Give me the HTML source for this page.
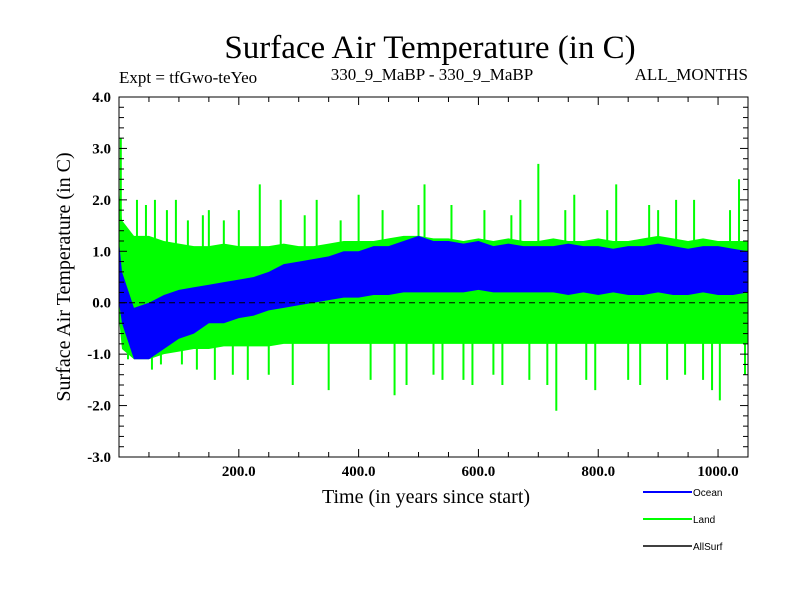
<!DOCTYPE html>
<html><head><meta charset="utf-8"><style>
body{margin:0;background:#fff;width:800px;height:600px;overflow:hidden}
svg{display:block}
text{font-family:"Liberation Serif",serif}
</style></head><body>
<svg id="chart" width="800" height="600">
<text x="430" y="58" font-size="33" text-anchor="middle">Surface Air Temperature (in C)</text>
<text x="119" y="83" font-size="17">Expt = tfGwo-teYeo</text>
<text x="432" y="80" font-size="17" text-anchor="middle">330_9_MaBP - 330_9_MaBP</text>
<text x="748" y="80" font-size="17" text-anchor="end">ALL_MONTHS</text>
<text x="426" y="503" font-size="20" text-anchor="middle">Time (in years since start)</text>
<text transform="translate(70,277) rotate(-90)" font-size="20" text-anchor="middle">Surface Air Temperature (in C)</text>
<g id="plot"></g>
<g id="axes"></g>
<g>
<line x1="643" y1="492" x2="692" y2="492" stroke="#00f" stroke-width="2"/>
<text x="693" y="496" font-size="10" style="font-family:'Liberation Sans',sans-serif">Ocean</text>
<line x1="643" y1="519" x2="692" y2="519" stroke="#0f0" stroke-width="2"/>
<text x="693" y="523" font-size="10" style="font-family:'Liberation Sans',sans-serif">Land</text>
<line x1="643" y1="546" x2="692" y2="546" stroke="#000" stroke-width="1.5"/>
<text x="693" y="550" font-size="10" style="font-family:'Liberation Sans',sans-serif">AllSurf</text>
</g>
</svg>
<script>
const years=[0,5,25,50,75,100,125,150,175,200,225,250,275,300,325,350,375,400,425,450,475,500,525,550,575,600,625,650,675,700,725,750,775,800,825,850,875,900,925,950,975,1000,1025,1050];
const oceanHigh=[1.2,0.6,-0.1,0.0,0.15,0.25,0.3,0.35,0.4,0.45,0.5,0.6,0.75,0.8,0.85,0.9,1.0,1.0,1.1,1.1,1.2,1.3,1.2,1.2,1.15,1.2,1.1,1.15,1.1,1.1,1.1,1.15,1.1,1.1,1.05,1.1,1.1,1.15,1.1,1.05,1.1,1.1,1.05,1.0];
const oceanLow=[0.0,-0.4,-1.1,-1.1,-0.9,-0.7,-0.6,-0.4,-0.4,-0.3,-0.25,-0.15,-0.1,-0.05,0.0,0.05,0.1,0.1,0.15,0.15,0.2,0.2,0.2,0.2,0.2,0.25,0.2,0.2,0.2,0.2,0.2,0.15,0.2,0.15,0.2,0.15,0.15,0.2,0.15,0.15,0.2,0.15,0.15,0.2];
const landHigh=[2.2,1.6,1.3,1.3,1.2,1.15,1.1,1.1,1.15,1.1,1.1,1.1,1.15,1.1,1.1,1.15,1.2,1.2,1.2,1.25,1.3,1.3,1.25,1.25,1.2,1.25,1.2,1.25,1.2,1.2,1.25,1.2,1.2,1.25,1.2,1.2,1.25,1.3,1.25,1.2,1.25,1.2,1.2,1.2];
const landLow=[-0.3,-0.9,-1.1,-1.1,-1.0,-0.95,-0.9,-0.9,-0.85,-0.85,-0.85,-0.85,-0.8,-0.8,-0.8,-0.8,-0.8,-0.8,-0.8,-0.8,-0.8,-0.8,-0.8,-0.8,-0.8,-0.8,-0.8,-0.8,-0.8,-0.8,-0.8,-0.8,-0.8,-0.8,-0.8,-0.8,-0.8,-0.8,-0.8,-0.8,-0.8,-0.8,-0.8,-0.8];
const spikeYears=[3,15,30,45,55,60,70,80,95,105,115,130,140,150,160,175,190,200,215,235,250,270,290,310,330,350,370,400,420,440,460,480,500,510,525,540,555,575,590,610,625,640,655,670,685,700,715,730,745,760,780,795,815,830,850,870,885,900,915,930,945,960,975,990,1003,1020,1035,1045];
const spikeValues=[3.2,-1.1,2.0,1.9,-1.3,2.0,-1.2,1.8,2.0,-1.2,1.6,-1.3,1.7,1.8,-1.5,1.6,-1.4,1.8,-1.5,2.3,-1.4,2.0,-1.6,1.7,2.0,-1.7,1.6,2.1,-1.5,1.8,-1.8,-1.6,1.9,2.3,-1.4,-1.5,1.9,-1.5,-1.6,1.8,-1.4,-1.6,1.7,2.0,-1.5,2.7,-1.6,-2.1,1.8,2.1,-1.5,-1.7,1.8,2.3,-1.5,-1.6,1.9,1.8,-1.5,2.0,-1.4,2.0,-1.5,-1.7,-1.9,1.8,2.4,-1.4];
const xTicks=[200,400,600,800,1000];
const yTicks=[-3,-2,-1,0,1,2,3,4];
const X0=119,X1=748,Y0=97,Y1=457;
const xs=v=>X0+(v/1050)*(X1-X0);
const ys=v=>Y0+(4-v)/7*(Y1-Y0);
const NS="http://www.w3.org/2000/svg";
function mk(t,a,p){const e=document.createElementNS(NS,t);for(const k in a)e.setAttribute(k,a[k]);p.appendChild(e);return e;}
const plot=document.getElementById('plot'),axes=document.getElementById('axes');
function band(hi,lo,col){let pts=[];years.forEach((y,i)=>pts.push(xs(y)+','+ys(hi[i])));for(let i=years.length-1;i>=0;i--)pts.push(xs(years[i])+','+ys(lo[i]));return mk('polygon',{points:pts.join(' '),fill:col},plot);}
const lb=band(landHigh,landLow,'#00ff00');


spikeYears.forEach((y,i)=>{const l=mk('line',{x1:xs(y),x2:xs(y),y1:ys(0),y2:ys(spikeValues[i]),stroke:'#00ff00','stroke-width':2},plot);

});
const ob=band(oceanHigh,oceanLow,'#0000ff');


const zl=mk('line',{x1:X0,x2:X1,y1:ys(0),y2:ys(0),stroke:'#000','stroke-dasharray':'6,4','stroke-width':1},plot);


const fr=mk('rect',{x:X0,y:Y0,width:X1-X0,height:Y1-Y0,fill:'none',stroke:'#000','stroke-width':1},axes);


for(let v=50;v<1050;v+=50){const L=v%200===0?8:5;mk('line',{x1:xs(v),x2:xs(v),y1:Y1,y2:Y1-L,stroke:'#000'},axes);mk('line',{x1:xs(v),x2:xs(v),y1:Y0,y2:Y0+L,stroke:'#000'},axes);}
for(let k=-30;k<=40;k+=2){const v=k/10,L=k%10===0?8:5;mk('line',{x1:X0,x2:X0+L,y1:ys(v),y2:ys(v),stroke:'#000'},axes);mk('line',{x1:X1,x2:X1-L,y1:ys(v),y2:ys(v),stroke:'#000'},axes);}
xTicks.forEach(v=>{const t=mk('text',{x:xs(v),y:476,'font-size':15,'font-weight':'bold','text-anchor':'middle'},axes);t.textContent=v.toFixed(1);

});
yTicks.forEach(v=>{const t=mk('text',{x:111,y:ys(v)+5,'font-size':15,'font-weight':'bold','text-anchor':'end'},axes);t.textContent=v.toFixed(1);

});
</script>
</body></html>
